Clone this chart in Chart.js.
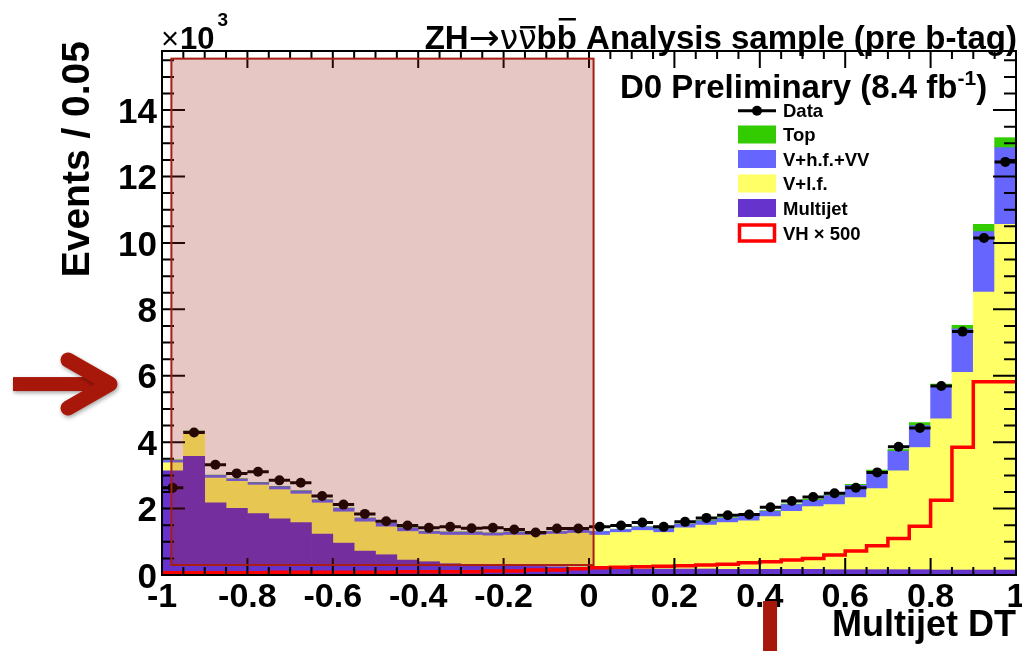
<!DOCTYPE html>
<html><head><meta charset="utf-8">
<script src="https://cdn.jsdelivr.net/npm/chart.js@4.4.1/dist/chart.umd.min.js"></script>
<style>html,body{margin:0;padding:0;background:#fff;overflow:hidden}#wrap{width:1022px;height:651px;position:relative}</style>
</head><body><div id="wrap"><canvas id="c" width="1022" height="651"></canvas></div>
<script>
// ---- data (units of 10^3 events per 0.05) ----
const binCenters = [-0.975,-0.925,-0.875,-0.825,-0.775,-0.725,-0.675,-0.625,-0.575,-0.525,
  -0.475,-0.425,-0.375,-0.325,-0.275,-0.225,-0.175,-0.125,-0.075,-0.025,
  0.025,0.075,0.125,0.175,0.225,0.275,0.325,0.375,0.425,0.475,
  0.525,0.575,0.625,0.675,0.725,0.775,0.825,0.875,0.925,0.975];
const binWidth = 0.05;
const multijet = [3.14,3.57,2.17,2.01,1.85,1.69,1.58,1.23,0.96,0.72,0.61,0.45,0.40,0.34,0.31,0.29,0.27,0.26,0.25,0.24,
  0.19,0.19,0.18,0.18,0.18,0.18,0.17,0.17,0.17,0.17,0.17,0.16,0.16,0.16,0.16,0.16,0.15,0.15,0.15,0.15];
const vlf = [0.24,0.70,0.75,0.81,0.86,0.88,0.86,0.94,0.94,0.88,0.84,0.86,0.83,0.86,0.89,0.89,0.93,0.94,0.98,1.02,
  1.01,1.09,1.16,1.10,1.24,1.32,1.41,1.46,1.59,1.75,1.89,1.96,2.17,2.44,2.98,3.68,4.55,5.95,8.37,10.41];
const vhf = [0.07,0.06,0.08,0.07,0.07,0.09,0.09,0.09,0.11,0.11,0.11,0.11,0.08,0.09,0.09,0.08,0.09,0.08,0.08,0.11,
  0.11,0.09,0.11,0.11,0.11,0.13,0.13,0.14,0.16,0.20,0.19,0.27,0.37,0.52,0.59,0.66,0.97,1.31,1.82,2.31];
const topQuark = [0.02,0.01,0.01,0.01,0.01,0.01,0.01,0.01,0.01,0.01,0.01,0.01,0.01,0.01,0.01,0.01,0.01,0.01,0.01,0.01,
  0.01,0.01,0.01,0.01,0.01,0.02,0.02,0.02,0.02,0.02,0.03,0.03,0.03,0.04,0.05,0.09,0.08,0.11,0.22,0.30];
const dataValues = [2.63,4.29,3.32,3.06,3.11,2.85,2.78,2.38,2.12,1.84,1.62,1.49,1.42,1.45,1.41,1.42,1.37,1.28,1.40,1.40,
  1.45,1.49,1.58,1.45,1.60,1.72,1.80,1.82,2.04,2.23,2.35,2.46,2.63,3.09,3.86,4.43,5.69,7.33,10.15,12.44];
const vhTimes500 = [0.07,0.07,0.07,0.07,0.07,0.07,0.08,0.08,0.08,0.08,0.08,0.08,0.10,0.10,0.10,0.10,0.12,0.12,0.15,0.15,
  0.19,0.22,0.23,0.25,0.26,0.28,0.30,0.32,0.37,0.40,0.45,0.50,0.60,0.72,0.88,1.10,1.47,2.25,3.85,5.82];
const xTickValues = [-1,-0.8,-0.6,-0.4,-0.2,0,0.2,0.4,0.6,0.8,1];
const xTickLabels = ['-1','-0.8','-0.6','-0.4','-0.2','0','0.2','0.4','0.6','0.8','1'];
const yTickValues = [0,2,4,6,8,10,12,14];
const yTickLabels = ['0','2','4','6','8','10','12','14'];
const legendLabels = ['Data','Top','V+h.f.+VV','V+l.f.','Multijet','VH \u00d7 500'];
const colors = {top:'#33cc00', vhf:'#6666ff', vlf:'#ffff66', mj:'#6633cc', vh:'#ff0000'};

const FONT = "'Liberation Sans', Arial, Helvetica, sans-serif";
const pts = a => binCenters.map((x,i)=>({x:x, y:a[i]}));
const vhStep = binCenters.map((c,i)=>({x:c-binWidth/2, y:vhTimes500[i]}));
vhStep.push({x:binCenters[binCenters.length-1]+binWidth/2, y:vhTimes500[vhTimes500.length-1]});

const errBars = {
  id:'errBars',
  beforeDatasetDraw(chart, args){
    if (chart.data.datasets[args.index].label !== 'Data') return;
    const {ctx, scales:{x,y}} = chart;
    ctx.save(); ctx.strokeStyle='#000'; ctx.lineWidth=3; ctx.beginPath();
    binCenters.forEach((c,i)=>{
      const py = y.getPixelForValue(dataValues[i]);
      ctx.moveTo(x.getPixelForValue(c-binWidth/2), py);
      ctx.lineTo(x.getPixelForValue(c+binWidth/2), py);
    });
    ctx.stroke(); ctx.restore();
  }
};

const frameTicks = {
  id:'frameTicks',
  afterDatasetsDraw(chart){
    const {ctx, chartArea:a, scales:{x,y}} = chart;
    ctx.save();
    ctx.strokeStyle='#000'; ctx.lineWidth=2; ctx.beginPath();
    for (let k=0;k<=40;k++){
      const px = x.getPixelForValue(-1+k*0.05); const L=(k%4===0)?17:8;
      ctx.moveTo(px,a.bottom); ctx.lineTo(px,a.bottom-L);
      ctx.moveTo(px,a.top); ctx.lineTo(px,a.top+L);
    }
    for (let k=0;k*0.5<=y.max;k++){
      const py = y.getPixelForValue(k*0.5); const L=(k%4===0)?23:12;
      ctx.moveTo(a.left,py); ctx.lineTo(a.left+L,py);
      ctx.moveTo(a.right,py); ctx.lineTo(a.right-L,py);
    }
    ctx.stroke();
    ctx.lineWidth=2; ctx.strokeRect(a.left,a.top,a.right-a.left,a.bottom-a.top);
    // highlighted region (slide annotation)
    const x0=x.getPixelForValue(-0.978), x1=x.getPixelForValue(0.0107);
    const y0=y.getPixelForValue(15.55), y1=y.getPixelForValue(0.3);
    ctx.fillStyle='rgba(160,30,20,0.25)'; ctx.fillRect(x0,y0,x1-x0,y1-y0);
    ctx.strokeStyle='#a81e12'; ctx.lineWidth=2; ctx.strokeRect(x0,y0,x1-x0,y1-y0);
    ctx.restore();
  },
  afterDraw(chart){
    const {ctx, chartArea:a, scales:{x,y}} = chart;
    ctx.save();
    ctx.fillStyle='#000'; ctx.textBaseline='alphabetic';
    // x10^3
    ctx.textAlign='left';
    ctx.font='31px '+FONT; ctx.fillText('\u00d7',161,49);
    let w=ctx.measureText('\u00d7').width;
    ctx.font='bold 31px '+FONT; ctx.fillText('10',162+w,49);
    let w2=ctx.measureText('10').width;
    ctx.font='bold 19px '+FONT; ctx.fillText('3',162+w+w2+3,26);
    // title
    const runs=[
      {t:'ZH',f:'bold 33px '+FONT},
      {t:'\u2192',f:'37px "DejaVu Sans", sans-serif', dy:1},
      {t:'\u03bd',f:'33px "DejaVu Sans", sans-serif'},
      {t:'\u03bd',f:'33px "DejaVu Sans", sans-serif', bar:21},
      {t:'b',f:'bold 33px '+FONT},
      {t:'b',f:'bold 33px '+FONT, bar:29},
      {t:' Analysis sample (pre b-tag)',f:'bold 33px '+FONT}
    ];
    let tot=0; runs.forEach(r=>{ctx.font=r.f; r.w=ctx.measureText(r.t).width; tot+=r.w;});
    let cx=1017-tot; const base=49;
    runs.forEach(r=>{ctx.font=r.f; ctx.fillText(r.t,cx,base+(r.dy||0));
      if(r.bar){ctx.fillRect(cx+2,base-r.bar-2,r.w-3,2.5);} cx+=r.w;});
    // D0 Preliminary
    ctx.font='bold 33px '+FONT; let px=620; const pb=98;
    ctx.fillText('D0 Preliminary (8.4 fb',px,pb); px+=ctx.measureText('D0 Preliminary (8.4 fb').width;
    ctx.font='bold 21px '+FONT; ctx.fillText('-1',px,pb-13); px+=ctx.measureText('-1').width;
    ctx.font='bold 33px '+FONT; ctx.fillText(')',px,pb);
    // legend
    const lx=738, lw=38, lh=18, rowC=[110.7,134.5,159,183.5,208,233];
    const fills=[null,colors.top,colors.vhf,colors.vlf,colors.mj,null];
    ctx.font='bold 18.5px '+FONT;
    legendLabels.forEach((lab,i)=>{
      const cy=rowC[i];
      if(i===0){ctx.strokeStyle='#000';ctx.lineWidth=3;ctx.beginPath();ctx.moveTo(lx,cy);ctx.lineTo(lx+lw,cy);ctx.stroke();
        ctx.beginPath();ctx.arc(lx+lw/2,cy,5,0,Math.PI*2);ctx.fill();}
      else if(fills[i]){ctx.fillStyle=fills[i];ctx.fillRect(lx,cy-lh/2,lw,lh);ctx.fillStyle='#000';}
      else {ctx.strokeStyle=colors.vh;ctx.lineWidth=3.5;ctx.strokeRect(lx+1.5,cy-lh/2+1,lw-3,lh-2);}
      ctx.fillStyle='#000'; ctx.fillText(lab,783,cy+6.6);
    });
    // axis titles
    ctx.font='bold 36px '+FONT; ctx.textAlign='right';
    ctx.fillText('Multijet DT',1016,636);
    ctx.font='bold 39px '+FONT;
    ctx.save(); ctx.translate(89,41); ctx.rotate(-Math.PI/2); ctx.fillText('Events / 0.05',0,0); ctx.restore();
    // slide arrows
    const ay=y.getPixelForValue(5.75);
    ctx.fillStyle=ctx.strokeStyle='#a8180a';
    ctx.shadowColor='rgba(0,0,0,0.35)'; ctx.shadowBlur=4; ctx.shadowOffsetX=1; ctx.shadowOffsetY=2;
    ctx.fillRect(13,ay-7,92,14);
    ctx.lineWidth=15; ctx.lineCap='round'; ctx.lineJoin='round';
    ctx.beginPath(); ctx.moveTo(68,ay-24); ctx.lineTo(110,ay); ctx.lineTo(68,ay+24); ctx.stroke();
    ctx.shadowColor='transparent';
    const bx=x.getPixelForValue(0.424);
    ctx.fillRect(bx-7,601,14,50);
    ctx.restore();
  }
};

new Chart(document.getElementById('c'), {
  type:'bar',
  data:{datasets:[
    {label:'Data', type:'scatter', data:pts(dataValues), stack:'data', order:0,
      pointRadius:5, pointHoverRadius:5, pointBackgroundColor:'#000', pointBorderWidth:0, showLine:false},
    {label:'VH \u00d7 500', type:'line', data:vhStep, stack:'vh', order:1, stepped:'after',
      borderColor:colors.vh, borderWidth:3.5, pointRadius:0, fill:false},
    {label:'Multijet', data:pts(multijet), backgroundColor:colors.mj, stack:'bg', order:2},
    {label:'V+l.f.', data:pts(vlf), backgroundColor:colors.vlf, stack:'bg', order:3},
    {label:'V+h.f.+VV', data:pts(vhf), backgroundColor:colors.vhf, stack:'bg', order:4},
    {label:'Top', data:pts(topQuark), backgroundColor:colors.top, stack:'bg', order:5}
  ]},
  options:{
    responsive:false, animation:false, events:[],
    datasets:{bar:{barPercentage:1, categoryPercentage:1, borderWidth:0}},
    layout:{padding:{top:51, right:6, left:0, bottom:0}},
    plugins:{legend:{display:false}, tooltip:{enabled:false}, title:{display:false}},
    scales:{
      x:{type:'linear', min:-1, max:1, offset:false, grid:{display:false, drawTicks:false, offset:false}, border:{display:false},
        afterBuildTicks:s=>{s.ticks=xTickValues.map(v=>({value:v}));},
        ticks:{callback:(v)=>xTickLabels[xTickValues.findIndex(t=>Math.abs(t-v)<1e-9)], font:{family:FONT,size:34,weight:'bold'}, color:'#000', padding:2, maxRotation:0, autoSkip:false},
        afterFit:s=>{s.height=76; s.paddingLeft=0; s.paddingRight=0;}},
      y:{type:'linear', stacked:true, min:0, max:15.78, grid:{display:false, drawTicks:false}, border:{display:false},
        afterBuildTicks:s=>{s.ticks=yTickValues.map(v=>({value:v}));},
        ticks:{callback:(v)=>yTickLabels[yTickValues.findIndex(t=>Math.abs(t-v)<1e-9)], font:{family:FONT,size:35,weight:'bold'}, color:'#000', padding:5, labelOffset:3},
        afterFit:s=>{s.width=162; s.paddingTop=0; s.paddingBottom=0;}}
    }
  },
  plugins:[errBars, frameTicks]
});
</script></body></html>
